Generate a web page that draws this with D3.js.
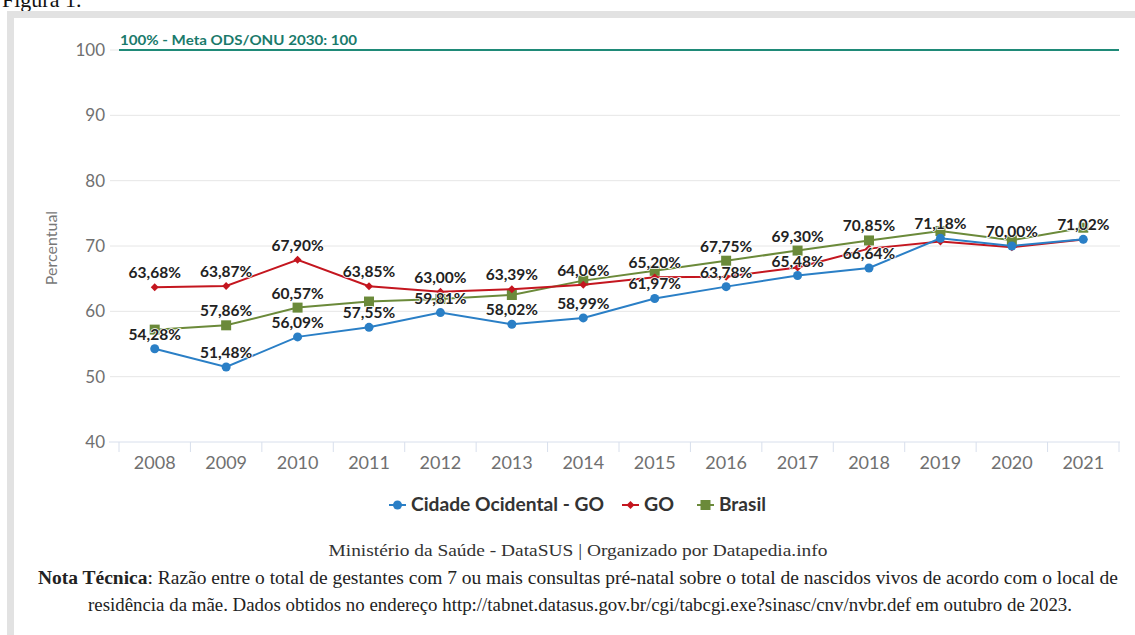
<!DOCTYPE html>
<html>
<head>
<meta charset="utf-8">
<script src="https://cdn.jsdelivr.net/npm/d3@7"></script>
<style>
  html, body { margin: 0; padding: 0; background: #fff; }
  svg { display: block; }
</style>
</head>
<body>
<svg id="chart" width="1135" height="635"></svg>
<script>
// data
const years = ['2008', '2009', '2010', '2011', '2012', '2013', '2014', '2015', '2016', '2017', '2018', '2019', '2020', '2021'];
const cidadeValues = [54.28, 51.48, 56.09, 57.55, 59.81, 58.02, 58.99, 61.97, 63.78, 65.48, 66.64, 71.18, 70.00, 71.02];
const goValues = [63.68, 63.87, 67.90, 63.85, 63.00, 63.39, 64.06, 65.20, 65.3, 66.7, 69.6, 70.7, 69.8, 71.0];
const brasilValues = [57.2, 57.86, 60.57, 61.5, 61.9, 62.5, 64.7, 66.2, 67.75, 69.30, 70.85, 72.3, 70.9, 72.8];
// which points carry a visible value label
const cidadeLabeled = [1, 1, 1, 1, 1, 1, 1, 1, 1, 1, 1, 1, 1, 1];
const goLabeled = [1, 1, 1, 1, 1, 1, 1, 1, 0, 0, 0, 0, 0, 0];
const brasilLabeled = [0, 1, 1, 0, 0, 0, 0, 0, 1, 1, 1, 0, 0, 0];
const yTicks = [40, 50, 60, 70, 80, 90, 100];
const goalValue = 100;
const goalLabel = '100% - Meta ODS/ONU 2030: 100';

const series = [
  { name: 'Cidade Ocidental - GO', values: cidadeValues, labeled: cidadeLabeled, color: '#2a7fc6', marker: 'circle' },
  { name: 'GO', values: goValues, labeled: goLabeled, color: '#c4161f', marker: 'diamond' },
  { name: 'Brasil', values: brasilValues, labeled: brasilLabeled, color: '#6b8a3a', marker: 'square' },
];

const svg = d3.select('#chart');
const margin = { left: 119, right: 1119, top: 50, bottom: 442 };
const sans = 'Lato, "Noto Sans", sans-serif';

// page frame
svg.append('text')
  .attr('x', 2).attr('y', 7)
  .attr('font-family', '"Liberation Serif", serif')
  .attr('font-size', 22)
  .attr('fill', '#111')
  .text('Figura 1.');
svg.append('rect').attr('x', 7).attr('y', 11).attr('width', 1128).attr('height', 7).attr('fill', '#e2e2e2');
svg.append('rect').attr('x', 7).attr('y', 11).attr('width', 7).attr('height', 624).attr('fill', '#e2e2e2');

const x = d3.scaleBand().domain(years).range([margin.left, margin.right]);
const y = d3.scaleLinear().domain([40, 100]).range([margin.bottom, margin.top]);
const cx = d => x(d) + x.bandwidth() / 2;

// grid
svg.append('g')
  .selectAll('line')
  .data(yTicks.filter(t => t !== 40 && t !== goalValue))
  .join('line')
  .attr('x1', margin.left - 9).attr('x2', margin.right + 1)
  .attr('y1', d => y(d)).attr('y2', d => y(d))
  .attr('stroke', '#e6e6e6').attr('stroke-width', 1);

// y tick labels
svg.append('g')
  .selectAll('text')
  .data(yTicks)
  .join('text')
  .attr('x', 105).attr('y', d => y(d) + 6)
  .attr('text-anchor', 'end')
  .attr('font-family', sans).attr('font-size', 17)
  .attr('fill', '#707070')
  .text(d => d);

svg.append('text')
  .attr('transform', `translate(57,${(margin.top + margin.bottom) / 2 + 2}) rotate(-90)`)
  .attr('text-anchor', 'middle')
  .attr('font-family', sans).attr('font-size', 16)
  .attr('fill', '#777')
  .text('Percentual');

// x axis
const xAxis = svg.append('g')
  .attr('transform', `translate(0,${margin.bottom})`)
  .call(d3.axisBottom(x).tickSize(0).tickPadding(14));
xAxis.select('.domain').attr('d', `M${margin.left - 10},0H${margin.right + 1}`).attr('stroke', '#d8dfec');
xAxis.selectAll('text')
  .attr('font-family', sans).attr('font-size', 18).attr('fill', '#707070');
xAxis.selectAll('.boundary')
  .data(years.concat(['end']))
  .join('line')
  .attr('x1', (d, i) => margin.left + i * x.step())
  .attr('x2', (d, i) => margin.left + i * x.step())
  .attr('y1', 0).attr('y2', 10)
  .attr('stroke', '#d8dfec');

// goal line
svg.append('line')
  .attr('x1', margin.left).attr('x2', margin.right)
  .attr('y1', y(goalValue)).attr('y2', y(goalValue))
  .attr('stroke', '#1f8a78').attr('stroke-width', 2);
svg.append('line')
  .attr('x1', margin.left - 9).attr('x2', margin.left)
  .attr('y1', y(goalValue)).attr('y2', y(goalValue))
  .attr('stroke', '#e6e6e6');
svg.append('text')
  .attr('x', margin.left + 1).attr('y', y(goalValue) - 5)
  .attr('font-family', sans).attr('font-size', 13.5).attr('font-weight', 700)
  .attr('fill', '#1a7a6b')
  .attr('textLength', 237).attr('lengthAdjust', 'spacingAndGlyphs')
  .text(goalLabel);

function drawMarker(g, type, color, px, py) {
  if (type === 'circle') {
    g.append('circle').attr('cx', px).attr('cy', py).attr('r', 4.5).attr('fill', color);
  } else if (type === 'diamond') {
    g.append('path').attr('d', d3.symbol(d3.symbolDiamond2, 40)()).attr('transform', `translate(${px},${py})`).attr('fill', color);
  } else {
    g.append('rect').attr('x', px - 5).attr('y', py - 5).attr('width', 10).attr('height', 10).attr('fill', color);
  }
}

const line = d3.line().x((d, i) => cx(years[i])).y(d => y(d));

// draw back to front: Brasil, GO, Cidade
[series[2], series[1], series[0]].forEach(s => {
  const g = svg.append('g');
  g.append('path')
    .attr('d', line(s.values))
    .attr('fill', 'none')
    .attr('stroke', s.color)
    .attr('stroke-width', 2);
  s.values.forEach((v, i) => drawMarker(g, s.marker, s.color, cx(years[i]), y(v)));
});

// value labels
const fmt = v => v.toFixed(2).replace('.', ',') + '%';
series.forEach(s => {
  svg.append('g')
    .selectAll('text')
    .data(s.values.map((v, i) => ({ v, i })).filter(d => s.labeled[d.i]))
    .join('text')
    .attr('x', d => cx(years[d.i]))
    .attr('y', d => y(d.v) - 9)
    .attr('text-anchor', 'middle')
    .attr('font-family', sans).attr('font-size', 15.5).attr('font-weight', 700)
    .attr('fill', '#222')
    .attr('stroke', '#fff').attr('stroke-width', 1.5).attr('paint-order', 'stroke')
    .text(d => fmt(d.v));
});

// legend
const legendItems = [
  { s: series[0], x: 389, w: 193 },
  { s: series[1], x: 622, w: 30 },
  { s: series[2], x: 697, w: 47 },
];
legendItems.forEach(({ s, x: lx, w }) => {
  const g = svg.append('g');
  g.append('line').attr('x1', lx).attr('x2', lx + 17).attr('y1', 505).attr('y2', 505)
    .attr('stroke', s.color).attr('stroke-width', 2);
  drawMarker(g, s.marker, s.color, lx + 8.5, 505);
  g.append('text')
    .attr('x', lx + 22).attr('y', 511)
    .attr('font-family', sans).attr('font-size', 18.5).attr('font-weight', 700)
    .attr('fill', '#333')
    .attr('textLength', w).attr('lengthAdjust', 'spacingAndGlyphs')
    .text(s.name);
});

// footer
const serif = '"Liberation Serif", "DejaVu Serif", serif';
svg.append('text')
  .attr('x', 578).attr('y', 556)
  .attr('text-anchor', 'middle')
  .attr('font-family', serif).attr('font-size', 17).attr('fill', '#333')
  .attr('textLength', 499).attr('lengthAdjust', 'spacingAndGlyphs')
  .text('Ministério da Saúde - DataSUS | Organizado por Datapedia.info');
const note = svg.append('text')
  .attr('x', 38).attr('y', 584)
  .attr('font-family', serif).attr('font-size', 18).attr('fill', '#222')
  .attr('textLength', 1080).attr('lengthAdjust', 'spacingAndGlyphs');
note.append('tspan').attr('font-weight', 700).text('Nota Técnica');
note.append('tspan').text(': Razão entre o total de gestantes com 7 ou mais consultas pré-natal sobre o total de nascidos vivos de acordo com o local de');
svg.append('text')
  .attr('x', 88).attr('y', 611)
  .attr('font-family', serif).attr('font-size', 18).attr('fill', '#222')
  .attr('textLength', 984).attr('lengthAdjust', 'spacingAndGlyphs')
  .text('residência da mãe. Dados obtidos no endereço http://tabnet.datasus.gov.br/cgi/tabcgi.exe?sinasc/cnv/nvbr.def em outubro de 2023.');
</script>
</body>
</html>
